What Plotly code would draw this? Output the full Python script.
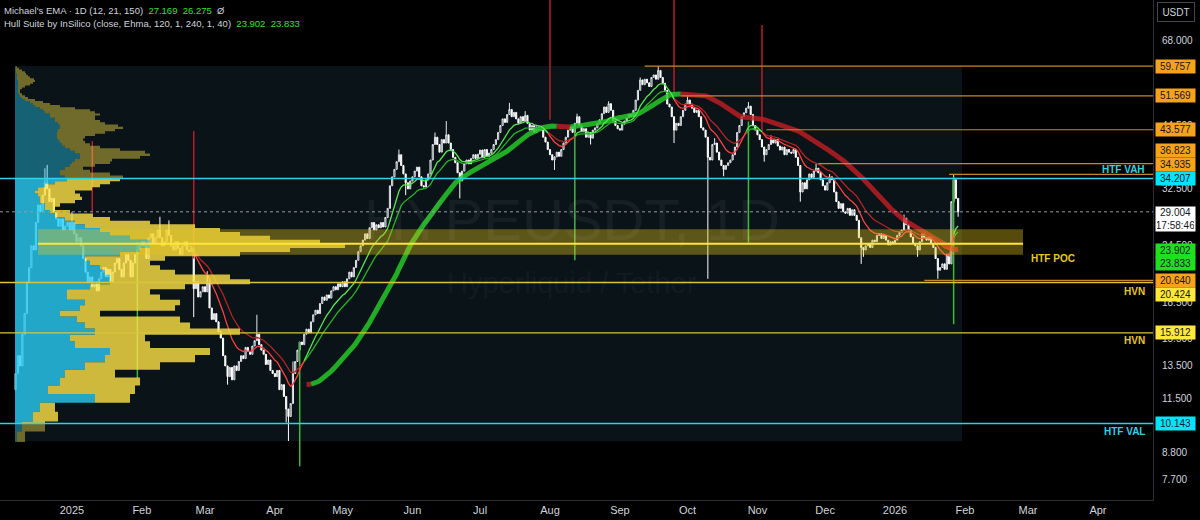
import numpy as np
import pandas as pd
import plotly.graph_objects as go

# ---------------- data ----------------
START_DATE = "2024-12-07"
FIRST_OPEN = 12.0

CLOSE_2024_12 = [13.0, 14.2, 13.5, 15.8, 17.5, 20.5, 22.0, 24.5, 24.0, 27.5, 30.0, 29.0, 31.5,
                 33.5, 32.5, 30.5, 31.0, 29.0, 28.0, 27.0, 28.0, 26.5, 27.0, 27.5, 26.5]
CLOSE_2025_01 = [27.5, 26.0, 25.0, 25.5, 24.5, 23.0, 21.5, 20.5, 21.0, 20.0, 20.5, 19.6, 20.8, 21.5,
                 22.0, 21.0, 21.8, 20.5, 21.5, 22.5, 23.0, 21.8, 21.0, 22.5, 23.5, 22.8, 21.0, 22.5,
                 23.5, 24.0, 24.5]
CLOSE_2025_02 = [25.0, 24.5, 23.0, 25.5, 26.0, 24.8, 25.5, 26.5, 25.5, 24.5, 25.0, 26.5, 25.8, 24.5,
                 24.0, 25.0, 24.2, 23.5, 24.5, 25.0, 24.0, 23.8, 24.2, 19.8, 20.5, 19.0, 19.5, 20.0]
CLOSE_2025_03 = [19.5, 20.5, 18.0, 17.0, 17.5, 16.8, 16.0, 15.5, 14.2, 13.5, 12.8, 13.4, 12.6, 13.5,
                 13.2, 13.8, 14.2, 14.0, 14.8, 14.5, 14.3, 14.9, 15.3, 15.8, 15.0, 14.6, 14.3, 13.6,
                 13.9, 13.2, 13.0]
CLOSE_2025_04 = [12.8, 13.2, 12.0, 12.3, 11.6, 10.9, 10.5, 11.2, 13.0, 13.8, 14.6, 15.2, 15.0, 15.8,
                 16.2, 15.9, 16.8, 17.4, 17.8, 17.5, 18.4, 19.0, 18.7, 19.2, 18.9, 19.6, 20.0, 19.7,
                 20.3, 20.0]
CLOSE_2025_05 = [20.5, 20.0, 20.8, 21.5, 21.0, 22.0, 22.8, 23.8, 24.5, 25.2, 26.0, 25.4, 26.8, 27.5,
                 26.5, 27.2, 26.8, 27.5, 26.9, 28.2, 29.5, 33.0, 34.5, 35.8, 37.2, 38.5, 36.5, 35.0,
                 33.5, 32.5, 33.8]
CLOSE_2025_06 = [34.5, 35.5, 36.2, 34.5, 33.0, 32.8, 34.0, 35.0, 37.5, 40.5, 42.0, 40.5, 39.0, 41.5,
                 40.8, 42.5, 40.8, 39.5, 38.0, 37.0, 35.2, 33.8, 35.5, 36.8, 37.5, 36.8, 37.8, 38.5,
                 37.8, 38.6]
CLOSE_2025_07 = [39.4, 38.0, 39.5, 38.2, 38.8, 39.5, 40.5, 41.5, 43.0, 44.5, 46.0, 45.2, 47.0, 48.2,
                 46.5, 47.5, 46.0, 45.0, 46.5, 45.5, 46.8, 45.0, 43.5, 44.5, 43.0, 44.2, 43.6, 43.5,
                 42.0, 41.0, 39.5]
CLOSE_2025_08 = [38.5, 37.5, 38.1, 39.0, 38.2, 39.5, 40.8, 42.0, 43.5, 44.2, 43.0, 45.0, 46.5, 44.5,
                 43.2, 43.8, 42.0, 43.0, 41.8, 43.5, 44.0, 45.0, 45.8, 47.2, 48.8, 47.5, 49.6, 48.0,
                 45.5, 44.5, 43.8]
CLOSE_2025_09 = [43.5, 44.8, 45.5, 46.2, 47.0, 46.5, 48.0, 50.5, 53.0, 55.8, 54.5, 56.0, 55.0, 54.0,
                 56.5, 57.2, 56.0, 58.5, 56.5, 54.9, 53.0, 49.5, 48.8, 46.5, 43.5, 45.0, 44.5, 46.5,
                 48.0, 49.5]
CLOSE_2025_10 = [50.5, 49.5, 48.5, 47.5, 48.0, 46.5, 44.0, 43.5, 42.0, 38.0, 37.5, 40.5, 40.8, 39.0,
                 37.5, 36.5, 35.8, 36.5, 37.0, 37.5, 38.5, 40.0, 43.0, 44.5, 46.5, 47.4, 48.5, 49.0,
                 47.0, 44.5, 43.5]
CLOSE_2025_11 = [42.5, 41.5, 40.0, 38.5, 39.5, 40.5, 41.4, 40.8, 41.5, 40.2, 39.4, 40.0, 38.5, 39.5,
                 39.0, 38.8, 39.5, 38.0, 36.5, 32.0, 33.5, 32.5, 34.0, 35.0, 34.4, 35.5, 36.0, 35.2,
                 34.0, 33.0]
CLOSE_2025_12 = [32.3, 33.5, 34.5, 34.0, 32.0, 30.5, 29.5, 30.2, 29.0, 28.8, 29.5, 28.5, 29.3, 28.5,
                 27.8, 25.5, 24.3, 24.0, 24.5, 24.8, 24.3, 25.2, 25.0, 25.8, 26.0, 25.4, 25.8, 25.2,
                 24.6, 25.0, 24.8]
CLOSE_2026_01 = [25.2, 25.8, 26.2, 26.5, 28.1, 27.2, 26.5, 25.6, 24.8, 24.5, 24.0, 25.0, 26.0, 25.5,
                 25.2, 25.6, 24.8, 24.3, 23.0, 21.7, 22.0, 22.4, 21.8, 23.5, 22.4, 30.5, 34.0, 31.0,
                 29.0]

WICK_HIGH = {"2024-12-20": 36.0, "2024-12-21": 36.6, "2025-01-01": 29.0, "2025-02-09": 28.3,
             "2025-02-13": 27.8, "2025-03-02": 21.6, "2025-03-24": 17.4, "2025-04-09": 13.8,
             "2025-05-26": 39.5, "2025-06-11": 43.0, "2025-06-16": 45.5, "2025-07-14": 49.8,
             "2025-07-21": 47.8, "2025-08-13": 47.2, "2025-08-27": 50.2, "2025-09-10": 56.5,
             "2025-09-18": 59.757, "2025-10-01": 51.569, "2025-10-13": 41.8, "2025-10-28": 50.0,
             "2025-11-07": 42.4, "2025-11-27": 36.8, "2025-12-03": 35.0, "2026-01-05": 28.6,
             "2026-01-27": 34.9}
WICK_LOW = {"2025-02-24": 17.2, "2025-03-11": 12.3, "2025-04-06": 10.2, "2025-04-07": 9.3,
            "2025-05-29": 31.5, "2025-06-22": 31.0, "2025-08-03": 35.7, "2025-08-19": 40.5,
            "2025-09-25": 40.8, "2025-10-10": 20.8, "2025-10-17": 34.6, "2025-11-04": 37.2,
            "2025-11-20": 30.5, "2025-12-17": 22.4, "2025-12-18": 23.2, "2026-01-11": 23.2,
            "2026-01-20": 20.8, "2026-01-29": 28.3}

VAH, VAL = 34.207, 10.143
POC = 24.75
POC_BAND_LOW, POC_BAND_HIGH = 23.45, 26.6
HVN_LEVELS = [20.424, 15.912]
ORANGE_LEVELS = [59.757, 51.569, 43.577, 36.823, 34.935, 20.640]
ORANGE_START = ["2025-09-12", "2025-09-28", "2025-11-05", "2025-11-28", "2026-01-25", "2026-01-14"]
LAST_PRICE = 29.004
HULL_READOUT = [23.902, 23.833]
EMA_READOUT = [27.169, 26.275]

# volume profile rows (0.5 USDT rows from 9.25 up): up-volume width and total width, px
PROFILE_PRICE_LOW = 9.25
PROFILE_ROW = 0.5
PROFILE_UP = [2, 7, 18, 25, 80, 33, 45, 50, 70, 90, 95, 60, 55, 80, 70, 62, 45, 65, 70, 52,
              52, 75, 95, 95, 90, 85, 75, 70, 105, 125, 135, 135, 115, 95, 85, 70, 60, 50, 40, 35,
              30, 30, 25, 25, 23, 20, 23, 30, 40, 52, 50, 45, 45, 50, 55, 57, 60, 65, 65, 60,
              55, 50, 47, 45, 43, 42, 42, 42, 43, 45, 45, 43, 40, 40, 35, 35, 30, 28, 25, 20,
              18, 15, 10, 7, 5, 4, 3, 3, 3, 3, 3, 3, 3, 2, 2, 2, 2, 1, 1, 1, 1]
PROFILE_TOTAL = [10, 30, 43, 40, 115, 120, 125, 100, 145, 180, 195, 135, 130, 225, 175, 165, 85, 160,
                 165, 145, 135, 170, 235, 215, 160, 145, 135, 150, 225, 275, 330, 305, 255, 225, 205,
                 180, 135, 95, 78, 55, 40, 45, 60, 67, 65, 60, 77, 85, 95, 105, 108, 95, 75, 68, 80,
                 95, 97, 125, 135, 130, 105, 85, 75, 70, 68, 70, 80, 90, 100, 108, 103, 90, 85, 80,
                 80, 85, 80, 75, 60, 45, 35, 28, 20, 13, 10, 7, 5, 5, 7, 10, 15, 18, 20, 19, 15, 13,
                 11, 10, 7, 4, 2]

SIGNAL_RED = [("2025-01-10", 28.9, 41.2), ("2025-02-24", 23.0, 43.3), ("2025-08-01", 45.8, 95.0),
              ("2025-09-25", 51.5, 95.0), ("2025-11-03", 43.1, 73.3)]
SIGNAL_GREEN = [("2025-01-30", 12.7, 25.0), ("2025-04-12", 8.2, 15.2), ("2025-08-12", 22.8, 44.2),
                ("2025-10-28", 24.9, 45.4), ("2026-01-27", 16.6, 34.5)]

MONTH_TICKS = ["2025-01-01", "2025-02-01", "2025-03-01", "2025-04-01", "2025-05-01", "2025-06-01",
               "2025-07-01", "2025-08-01", "2025-09-01", "2025-10-01", "2025-11-01", "2025-12-01",
               "2026-01-01", "2026-02-01", "2026-03-01", "2026-04-01"]
MONTH_LABELS = ["2025", "Feb", "Mar", "Apr", "May", "Jun", "Jul", "Aug", "Sep", "Oct", "Nov", "Dec",
                "2026", "Feb", "Mar", "Apr"]
Y_TICKS = [7.7, 8.8, 11.5, 13.5, 15.5, 18.5, 24.5, 32.5, 44.5, 68.0]

# ---------------- layout constants ----------------
W_PLOT = 1153
X_START = pd.Timestamp("2024-11-30 02:00")
X_END = pd.Timestamp("2026-04-25 10:00")
Y_RANGE = [np.log10(6.94), np.log10(82.97)]
BG = "#000000"
BOX_BG = "#0a1318"
EMA_FROM = "2025-02-22"
FONT = "Liberation Sans, Arial, sans-serif"


def px_to_ts(px):
    return X_START + (X_END - X_START) * (px / W_PLOT)


def L(v):
    return float(np.log10(v))


# ---------------- build candles ----------------
closes = np.array(CLOSE_2024_12 + CLOSE_2025_01 + CLOSE_2025_02 + CLOSE_2025_03 + CLOSE_2025_04 +
                  CLOSE_2025_05 + CLOSE_2025_06 + CLOSE_2025_07 + CLOSE_2025_08 + CLOSE_2025_09 +
                  CLOSE_2025_10 + CLOSE_2025_11 + CLOSE_2025_12 + CLOSE_2026_01, dtype=float)
dates = pd.date_range(START_DATE, periods=len(closes), freq="D")
assert dates[-1] == pd.Timestamp("2026-01-29"), dates[-1]
dstr = [d.strftime("%Y-%m-%d") for d in dates]
opens = np.concatenate([[FIRST_OPEN], closes[:-1]])
highs = np.maximum(opens, closes)
lows = np.minimum(opens, closes)
for i, k in enumerate(dstr):
    if k in WICK_HIGH:
        highs[i] = max(highs[i], WICK_HIGH[k])
    if k in WICK_LOW:
        lows[i] = min(lows[i], WICK_LOW[k])


def pine_ema(src, n):
    src = np.asarray(src, dtype=float)
    out = np.full(len(src), np.nan)
    idx = np.where(~np.isnan(src))[0]
    if len(idx) < n:
        return out
    s = idx[0]
    first = s + n - 1
    out[first] = np.mean(src[s:first + 1])
    a = 2.0 / (n + 1)
    for i in range(first + 1, len(src)):
        out[i] = a * src[i] + (1 - a) * out[i - 1]
    return out


ema12 = pine_ema(closes, 12)
ema21 = pine_ema(closes, 21)
mask = dates < pd.Timestamp(EMA_FROM)
ema12[mask] = np.nan
ema21[mask] = np.nan
ema_bull = ema12 > ema21

hull = pine_ema(2 * pine_ema(closes, 60) - pine_ema(closes, 120), int(round(np.sqrt(120))))
hull_up = np.zeros(len(hull), dtype=bool)
hull_up[2:] = hull[2:] > hull[:-2]


def split_runs(xd, vals, cond):
    xs = {True: [], False: []}
    ys = {True: [], False: []}
    cur = None
    sx, sy = [], []
    for i in range(len(vals)):
        if np.isnan(vals[i]):
            continue
        c = bool(cond[i])
        if cur is None:
            cur, sx, sy = c, [xd[i]], [float(vals[i])]
        elif c == cur:
            sx.append(xd[i]); sy.append(float(vals[i]))
        else:
            sx.append(xd[i]); sy.append(float(vals[i]))
            xs[cur] += sx + [None]; ys[cur] += sy + [None]
            cur, sx, sy = c, [xd[i]], [float(vals[i])]
    if cur is not None:
        xs[cur] += sx; ys[cur] += sy
    return xs, ys


def line_trace(x, y, color, width, dash="solid", axis="x"):
    return go.Scatter(x=x, y=y, xaxis=axis, yaxis="y", mode="lines",
                      line=dict(color=color, width=width, dash=dash), hoverinfo="skip")


def poly_trace(x, y, color, axis="x"):
    return go.Scatter(x=x, y=y, xaxis=axis, yaxis="y", mode="lines", fill="toself",
                      fillcolor=color, line=dict(width=0), hoverinfo="skip")


fig = go.Figure()

# dark pane box behind the profile range (bar layer sits under the candles)
b0, b1 = px_to_ts(15), px_to_ts(962)
mid = b0 + (b1 - b0) / 2
fig.add_trace(go.Bar(x=[mid.strftime("%Y-%m-%d %H:%M")], y=[59.8 - 9.3], base=[9.3],
                     width=[(b1 - b0).total_seconds() * 1000.0],
                     marker=dict(color=BOX_BG, line=dict(width=0)), hoverinfo="skip"))

fig.add_trace(go.Candlestick(
    x=dstr, open=opens, high=highs, low=lows, close=closes,
    increasing=dict(line=dict(color="#e6e8ee", width=1), fillcolor="#0a1318"),
    decreasing=dict(line=dict(color="#ffffff", width=1), fillcolor="#ffffff"),
    whiskerwidth=0, showlegend=False, hoverinfo="skip"))

# signal spikes
for sig, col in [(SIGNAL_RED, "#b3202a"), (SIGNAL_GREEN, "#3fb83f")]:
    sx, sy = [], []
    for d, lo, hi in sig:
        sx += [d, d, None]
        sy += [lo, hi, None]
    fig.add_trace(line_trace(sx, sy, col, 1.5))

# Hull suite thick band
hx, hy = split_runs(dstr, hull, hull_up)
fig.add_trace(line_trace(hx[True], hy[True], "rgba(38,200,40,0.85)", 5))
fig.add_trace(line_trace(hx[False], hy[False], "rgba(195,30,36,0.8)", 5))

# EMA 12 / 21
for vals, gcol, rcol in [(ema21, "#25b325", "#b82323"), (ema12, "#55e655", "#ff4040")]:
    ex, ey = split_runs(dstr, vals, ema_bull)
    fig.add_trace(line_trace(ex[True], ey[True], gcol, 1.3))
    fig.add_trace(line_trace(ex[False], ey[False], rcol, 1.3))

# orange key levels (start at the bar they were set)
end_str = X_END.strftime("%Y-%m-%d %H:%M")
for lv, st in zip(ORANGE_LEVELS, ORANGE_START):
    fig.add_trace(line_trace([st, end_str], [lv, lv], "#c98528", 1.2))

# ---------------- volume profile (overlay pixel axis x2, drawn above candles) ----------------
PX0 = 15
assert len(PROFILE_UP) == len(PROFILE_TOTAL)
pieces = []
for i, (up, tot) in enumerate(zip(PROFILE_UP, PROFILE_TOTAL)):
    lo = PROFILE_PRICE_LOW + i * PROFILE_ROW
    hi = lo + PROFILE_ROW
    for a, b, reg in [(lo, min(hi, VAL), "low"), (max(lo, VAL), min(hi, VAH), "va"),
                      (max(lo, VAH), hi, "high")]:
        if b > a:
            pieces.append((reg, a, b, up, tot))

COLORS = {"va": ("rgba(40,205,245,0.80)", "rgba(255,228,70,0.80)"),
          "low": ("rgba(40,205,245,0.42)", "rgba(255,228,70,0.42)"),
          "high": ("rgba(40,205,245,0.42)", "rgba(255,228,70,0.42)")}


def step_poly(rows, left, right):
    xs, ys = [], []
    for a, b, up, tot in rows:
        r = right(up, tot)
        xs += [r, r]; ys += [a, b]
    for a, b, up, tot in reversed(rows):
        l = left(up, tot)
        xs += [l, l]; ys += [b, a]
    xs.append(xs[0]); ys.append(ys[0])
    return xs, ys


for reg in ["low", "va", "high"]:
    rows = [(a, b, up, tot) for r, a, b, up, tot in pieces if r == reg]
    if not rows:
        continue
    ccol, ycol = COLORS[reg]
    xs, ys = step_poly(rows, lambda u, t: PX0, lambda u, t: PX0 + u)
    fig.add_trace(poly_trace(xs, ys, ccol, axis="x2"))
    xs, ys = step_poly(rows, lambda u, t: PX0 + u, lambda u, t: PX0 + t)
    fig.add_trace(poly_trace(xs, ys, ycol, axis="x2"))

# POC band + POC line
fig.add_trace(poly_trace([38, 1023, 1023, 38, 38],
                         [POC_BAND_LOW, POC_BAND_LOW, POC_BAND_HIGH, POC_BAND_HIGH, POC_BAND_LOW],
                         "rgba(228,196,30,0.38)", axis="x2"))
fig.add_trace(line_trace([38, 1023], [POC, POC], "#ffe43a", 2, axis="x2"))
# full width levels
for lv in HVN_LEVELS:
    fig.add_trace(line_trace([0, W_PLOT], [lv, lv], "#d9c43a", 1.3, axis="x2"))
for lv in [VAH, VAL]:
    fig.add_trace(line_trace([0, W_PLOT], [lv, lv], "#2fd3e6", 1.6, axis="x2"))
fig.add_trace(line_trace([0, W_PLOT], [LAST_PRICE, LAST_PRICE], "#9598a1", 1, dash="dot", axis="x2"))

# ---------------- annotations ----------------
ann = []


def price_label(price, text, bg, shift=0.0, h=11, fg="#131722"):
    return dict(xref="paper", yref="y", x=1, y=L(price), xanchor="left", yanchor="middle",
                xshift=2, yshift=shift, text=text, showarrow=False, bgcolor=bg,
                font=dict(family=FONT, size=10, color=fg), width=37, height=h, borderpad=1,
                align="center")


ORANGE_BG = "#f7a21b"
ann.append(price_label(59.757, "59.757", ORANGE_BG))
ann.append(price_label(51.569, "51.569", ORANGE_BG))
ann.append(price_label(43.577, "43.577", ORANGE_BG))
ann.append(price_label(36.823, "36.823", ORANGE_BG, 13))
ann.append(price_label(34.935, "34.935", ORANGE_BG, 10))
ann.append(price_label(VAH, "34.207", "#00e5ff"))
ann.append(price_label(LAST_PRICE, "29.004<br>17:58:46", "#ffffff", -6.7, h=22))
ann.append(price_label(HULL_READOUT[0], "23.902", "#1ee01e"))
ann.append(price_label(HULL_READOUT[1], "23.833", "#1ee01e", -12.6))
ann.append(price_label(20.640, "20.640", ORANGE_BG))
ann.append(price_label(HVN_LEVELS[0], "20.424", "#ffe83b", -12))
ann.append(price_label(HVN_LEVELS[1], "15.912", "#ffe83b"))
ann.append(price_label(VAL, "10.143", "#00e5ff"))


def tag(text, price, shift, color, xpx):
    return dict(xref="paper", yref="y", x=xpx / W_PLOT, y=L(price), xanchor="right",
                yanchor="middle", yshift=shift, text="<b>%s</b>" % text, showarrow=False,
                font=dict(family=FONT, size=10, color=color))


ann.append(tag("HTF VAH", VAH, 9, "#2fd3e6", 1147))
ann.append(tag("HTF VAL", VAL, -8, "#2fd3e6", 1147))
ann.append(tag("HVN", HVN_LEVELS[0], -8.6, "#e8c81e", 1147))
ann.append(tag("HVN", HVN_LEVELS[1], -8, "#e8c81e", 1147))
ann.append(tag("HTF POC", POC, -14.5, "#e8c81e", 1077))

# watermark
ann.append(dict(xref="paper", yref="paper", x=572 / W_PLOT, y=1 - 220 / 500, text="HYPEUSDT, 1D",
                showarrow=False, font=dict(family=FONT, size=58, color="rgba(255,255,255,0.05)")))
ann.append(dict(xref="paper", yref="paper", x=572 / W_PLOT, y=1 - 283 / 500,
                text="Hyperliquid / Tether", showarrow=False,
                font=dict(family=FONT, size=29, color="rgba(255,255,255,0.05)")))

# indicator legend (top-left)
SP = "\u00a0"
GREEN_TXT = "#2fe02f"
ann.append(dict(xref="paper", yref="paper", x=0, y=1 - 10 / 500, xshift=2, xanchor="left",
                yanchor="middle", showarrow=False, align="left",
                text=("Michael's EMA · 1D (12, 21, 150)" + SP * 2 +
                      "<span style='color:%s'>%.3f%s%.3f</span>" % (GREEN_TXT, EMA_READOUT[0], SP * 2,
                                                                    EMA_READOUT[1]) + SP * 2 + "Ø"),
                font=dict(family=FONT, size=9.5, color="#d1d4dc")))
ann.append(dict(xref="paper", yref="paper", x=0, y=1 - 23 / 500, xshift=2, xanchor="left",
                yanchor="middle", showarrow=False, align="left",
                text=("Hull Suite by InSilico (close, Ehma, 120, 1, 240, 1, 40)" + SP * 2 +
                      "<span style='color:%s'>%.3f%s%.3f</span>" % (GREEN_TXT, HULL_READOUT[0], SP * 2,
                                                                    HULL_READOUT[1])),
                font=dict(family=FONT, size=9.5, color="#d1d4dc")))

# USDT currency button
ann.append(dict(xref="paper", yref="paper", x=1157 / W_PLOT, y=1 - 12 / 500, xanchor="left",
                yanchor="middle", showarrow=False, text="USDT", bgcolor="#000000",
                bordercolor="#434651", borderwidth=1, borderpad=2, width=32, height=14,
                font=dict(family=FONT, size=10, color="#d1d4dc")))

fig.update_layout(
    width=1200, height=520, margin=dict(l=0, r=47, t=0, b=20),
    paper_bgcolor=BG, plot_bgcolor=BG, showlegend=False, hovermode=False,
    annotations=ann,
    xaxis=dict(type="date", range=[X_START.strftime("%Y-%m-%d %H:%M"), end_str],
               rangeslider=dict(visible=False),
               showgrid=False, zeroline=False, showline=True, linecolor="#2a2e39",
               tickvals=MONTH_TICKS, ticktext=MONTH_LABELS,
               ticks="", tickfont=dict(family=FONT, size=11, color="#d1d4dc")),
    xaxis2=dict(overlaying="x", range=[0, W_PLOT], visible=False, fixedrange=True),
    yaxis=dict(type="log", range=Y_RANGE, side="right", showgrid=False, zeroline=False,
               showline=True, linecolor="#2a2e39", ticks="",
               tickvals=Y_TICKS, ticktext=["%.3f" % v for v in Y_TICKS],
               ticklabelstandoff=6,
               tickfont=dict(family=FONT, size=10, color="#d1d4dc")),
)

fig.write_html("out.html")
